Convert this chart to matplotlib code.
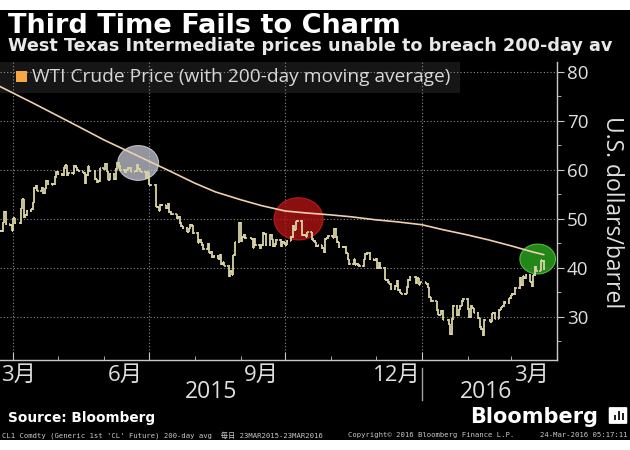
import numpy as np
import pandas as pd
import matplotlib
matplotlib.use("Agg")
import matplotlib.pyplot as plt
import matplotlib.dates as mdates
import matplotlib.transforms as mtransforms
from matplotlib.patches import Rectangle, Ellipse, FancyBboxPatch

# WTI front-month daily settles, 23 Mar 2015 - 23 Mar 2016 (one list per month)
mar15 = [47.45, 47.51, 49.21, 51.43, 48.87, 48.68, 47.60]
apr15 = [50.09, 49.14, 52.14, 53.98, 50.42, 50.79, 51.64, 51.91, 53.29, 56.39, 56.71,
         55.74, 56.38, 55.26, 56.16, 57.74, 57.15, 56.99, 57.06, 58.58, 59.63]
may15 = [59.15, 58.93, 60.40, 60.93, 58.94, 59.39, 59.25, 60.75, 60.50, 59.88, 59.69,
         59.43, 57.26, 58.98, 60.72, 59.72, 58.03, 57.51, 57.68, 60.30]
jun15 = [60.20, 61.26, 59.64, 58.00, 59.13, 58.14, 60.14, 61.43, 60.77, 59.96, 59.52,
         59.97, 60.45, 60.45, 59.61, 59.68, 61.01, 60.27, 59.70, 59.63, 58.33, 59.47]
jul15 = [56.96, 56.93, 52.53, 52.33, 51.65, 52.78, 52.74, 52.20, 53.04, 51.41, 50.91,
         50.89, 50.15, 50.36, 49.19, 48.45, 48.14, 47.39, 47.98, 48.79, 48.52, 47.12]
aug15 = [45.17, 45.74, 45.15, 44.66, 43.87, 44.96, 43.08, 43.30, 42.23, 42.50, 41.87,
         42.62, 40.80, 41.14, 40.45, 38.24, 39.31, 38.60, 42.56, 45.22, 49.20]
sep15 = [45.41, 46.25, 46.75, 46.05, 45.94, 44.15, 45.92, 44.63, 44.00, 44.59, 47.15,
         46.90, 44.68, 46.68, 45.83, 44.48, 44.91, 45.70, 44.43, 45.23, 45.09]
oct15 = [44.74, 45.54, 46.26, 48.53, 47.81, 49.43, 49.63, 46.66, 46.66, 46.64, 46.38,
         47.26, 45.89, 45.55, 45.20, 44.38, 44.60, 43.98, 43.20, 45.94, 46.06, 46.59]
nov15 = [46.14, 47.90, 46.32, 45.20, 44.29, 44.21, 44.21, 42.93, 41.75, 40.74, 41.74,
         40.67, 40.75, 40.54, 40.39, 41.75, 42.87, 43.04, 41.71, 41.65]
dec15 = [41.85, 39.94, 41.08, 39.97, 37.65, 37.51, 37.16, 36.76, 35.62, 36.31, 37.35,
         35.52, 34.95, 34.73, 34.74, 36.14, 37.50, 38.10, 36.81, 37.87, 36.60, 37.04]
jan16 = [36.76, 35.97, 33.97, 33.27, 33.16, 31.41, 30.44, 30.48, 31.20, 29.42, 28.46,
         26.55, 29.53, 32.19, 30.34, 31.45, 32.30, 33.22, 33.62]
feb16 = [31.62, 29.88, 32.28, 31.72, 30.89, 29.69, 27.94, 27.45, 26.21, 29.44, 29.04,
         30.66, 30.77, 29.64, 31.48, 31.87, 32.15, 33.07, 32.78, 33.75]
mar16 = [34.40, 34.66, 34.57, 35.92, 37.90, 36.50, 38.29, 37.84, 38.50, 37.18, 36.34,
         38.46, 40.20, 39.44, 41.52, 41.45, 39.79]
holidays = ["2015-04-03", "2015-05-25", "2015-07-03", "2015-09-07", "2015-11-26",
            "2015-12-25", "2016-01-01", "2016-01-18", "2016-02-15"]

# 200-day moving average
ma_dates = ["2015-03-23", "2015-04-15", "2015-05-01", "2015-05-15", "2015-06-01",
            "2015-06-15", "2015-07-01", "2015-07-15", "2015-08-01", "2015-08-15",
            "2015-09-01", "2015-09-15", "2015-10-01", "2015-10-15", "2015-11-01",
            "2015-11-15", "2015-12-01", "2015-12-15", "2016-01-01", "2016-01-15",
            "2016-02-01", "2016-02-15", "2016-03-01", "2016-03-15", "2016-03-23"]
ma_vals = [77.0, 73.5, 71.0, 68.8, 66.1, 64.1, 61.8, 59.8, 57.3, 55.5, 53.9, 52.7,
           51.6, 51.2, 50.8, 50.4, 49.8, 49.4, 48.8, 47.8, 46.7, 45.7, 44.5, 43.3, 42.7]

month_labels = ["3月", "6月", "9月", "12月", "3月"]
month_label_dates = ["2015-03-24", "2015-06-15", "2015-09-15", "2015-12-15", "2016-03-15"]
year_labels = ["2015", "2016"]
year_label_dates = ["2015-08-12", "2016-02-13"]

closes = np.array(mar15 + apr15 + may15 + jun15 + jul15 + aug15 + sep15 + oct15
                  + nov15 + dec15 + jan16 + feb16 + mar16)
days = pd.bdate_range("2015-03-23", "2016-03-23")
days = days[~days.isin(pd.to_datetime(holidays))]
x = mdates.date2num(days.to_pydatetime())
opens = np.r_[closes[0], closes[:-1]]

W, H = 630, 450
fig = plt.figure(figsize=(6.3, 4.5), dpi=100, facecolor="white")
fig.patches.append(Rectangle((0, 10 / H), 1, 430 / H, transform=fig.transFigure,
                             facecolor="black", edgecolor="none", zorder=-10))
# legend strip
fig.patches.append(Rectangle((0, 1 - 93 / H), 460 / W, 31 / H, transform=fig.transFigure,
                             facecolor="#161616", edgecolor="none", zorder=-5))

ax = fig.add_axes([0, 1 - 360 / H, 557 / W, 298 / H])
ax.set_facecolor("none")

bar_col = "#d9d3a3"
ax.vlines(x, np.minimum(opens, closes) - 0.15, np.maximum(opens, closes) + 0.15,
          color=bar_col, lw=1.3, zorder=3)
ax.hlines(closes, x, x + 1.0, color=bar_col, lw=1.2, zorder=3)
ax.hlines(opens, x - 1.0, x, color=bar_col, lw=1.2, zorder=3)

ax.plot(mdates.date2num(pd.to_datetime(ma_dates).to_pydatetime()), ma_vals,
        color="#f0cfae", lw=1.2, zorder=4)

# highlight ellipses
def d(s):
    return mdates.date2num(pd.Timestamp(s).to_pydatetime())

ax.add_patch(Ellipse((d("2015-06-24"), 61.4), 27.5, 7.1, facecolor="#c4c8d4", alpha=0.75,
                     edgecolor="#e0e0e8", lw=0.8, zorder=2))
ax.add_patch(Ellipse((d("2015-10-10"), 50.0), 33, 8.6, facecolor="#b01414", alpha=0.8,
                     edgecolor="#d02020", lw=0.8, zorder=2))
ax.add_patch(Ellipse((d("2016-03-19"), 41.8), 24, 6.1, facecolor="#2a9e1e", alpha=0.85,
                     edgecolor="#5ccc40", lw=0.8, zorder=2))

ax.yaxis.tick_right()
ax.set_yticks(range(30, 81, 10))
ax.set_yticks(range(25, 81, 10), minor=True)
ax.xaxis.set_major_locator(mdates.MonthLocator(bymonth=[1, 4, 7, 10]))
ax.xaxis.set_minor_locator(mdates.MonthLocator())
ax.set_xlim(d("2015-03-23"), d("2016-04-01"))
ax.set_ylim(21.2, 82.0)
ax.tick_params(axis="y", which="major", direction="out", length=5, color="#c8c8c8",
               labelcolor="#e0e0e0", labelsize=13.5, pad=2)
ax.tick_params(axis="y", which="minor", direction="out", length=3, color="#c8c8c8")
ax.tick_params(axis="x", which="major", direction="in", length=6, color="#c8c8c8", labelbottom=False)
ax.tick_params(axis="x", which="minor", direction="in", length=3, color="#c8c8c8")
for lab in ax.get_yticklabels():
    lab.set_family(["Open Sans", "DejaVu Sans"])
for s in ["top", "left"]:
    ax.spines[s].set_visible(False)
for s in ["bottom", "right"]:
    ax.spines[s].set_color("#c8c8c8")
    ax.spines[s].set_linewidth(1.0)
ax.grid(True, which="major", color="#8c8c8c", linestyle=(0, (1, 2)), lw=0.8)

trans = mtransforms.blended_transform_factory(ax.transData, ax.transAxes)
cjk = ["Open Sans", "Noto Sans CJK JP", "DejaVu Sans"]
for i, (lab, ds) in enumerate(zip(month_labels, month_label_dates)):
    ax.text(d(ds), -0.05, lab, transform=trans, ha="left" if i == 0 else "center",
            va="center", fontsize=16, color="#e0e0e0", family=cjk, clip_on=False)
for lab, ds in zip(year_labels, year_label_dates):
    ax.text(d(ds), -0.107, lab, transform=trans, ha="center", va="center",
            fontsize=16.5, color="#e0e0e0", family=cjk, clip_on=False)
ax.plot([d("2016-01-01")] * 2, [-0.027, -0.134], transform=trans, color="#a0a0a0",
        lw=1.0, clip_on=False)

# titles (subtitle is cut at the right edge in the original)
fig.text(8 / W, 1 - 33 / H, "Third Time Fails to Charm", fontsize=19.5, weight="bold",
         color="white", va="baseline")
fig.text(8 / W, 1 - 51 / H, "West Texas Intermediate prices unable to breach 200-day av",
         fontsize=12.7, weight="bold", color="#e8e8e8", va="baseline")

# legend
fig.patches.append(Rectangle((16 / W, 1 - 82 / H), 11 / W, 11 / H, transform=fig.transFigure,
                             facecolor="#f4a742", edgecolor="none"))
fig.text(32 / W, 1 - 77 / H, "WTI Crude Price (with 200-day moving average)", fontsize=13.8,
         color="#d8d8d8", va="center", family=["Open Sans", "DejaVu Sans"])

fig.text(612 / W, 1 - 212 / H, "U.S. dollars/barrel", rotation=270, fontsize=16.5,
         color="#e0e0e0", ha="center", va="center", family=["Open Sans", "DejaVu Sans"])

# footer
fig.text(8 / W, 1 - 422 / H, "Source: Bloomberg", fontsize=9.8, weight="bold", color="white",
         va="baseline")
fig.text(470 / W, 1 - 423 / H, "Bloomberg", fontsize=15, color="white", va="baseline",
         weight="semibold")
fig.patches.append(FancyBboxPatch((610 / W, 1 - 423 / H), 16 / W, 15 / H,
                                  boxstyle="round,pad=0.002", transform=fig.transFigure,
                                  facecolor="white", edgecolor="none"))
for bx, bh in zip([614, 618, 622], [5, 9, 7]):
    fig.patches.append(Rectangle((bx / W, 1 - 420 / H), 2 / W, bh / H, transform=fig.transFigure,
                                 facecolor="#202020", edgecolor="none"))
mono = ["DejaVu Sans Mono", "Noto Sans CJK JP"]
fig.text(2 / W, 1 - 435 / H, "CL1 Comdty (Generic 1st 'CL' Future) 200-day avg  毎日 23MAR2015-23MAR2016",
         fontsize=5.2, color="#c8c8c8", va="center", family=mono)
fig.text(348 / W, 1 - 435 / H, "Copyright© 2016 Bloomberg Finance L.P.", fontsize=5.2,
         color="#c8c8c8", va="center", family=mono)
fig.text(628 / W, 1 - 435 / H, "24-Mar-2016 05:17:11", fontsize=5.2, color="#c8c8c8",
         va="center", ha="right", family=mono)

fig.savefig("out.png", dpi=100, facecolor="white")
